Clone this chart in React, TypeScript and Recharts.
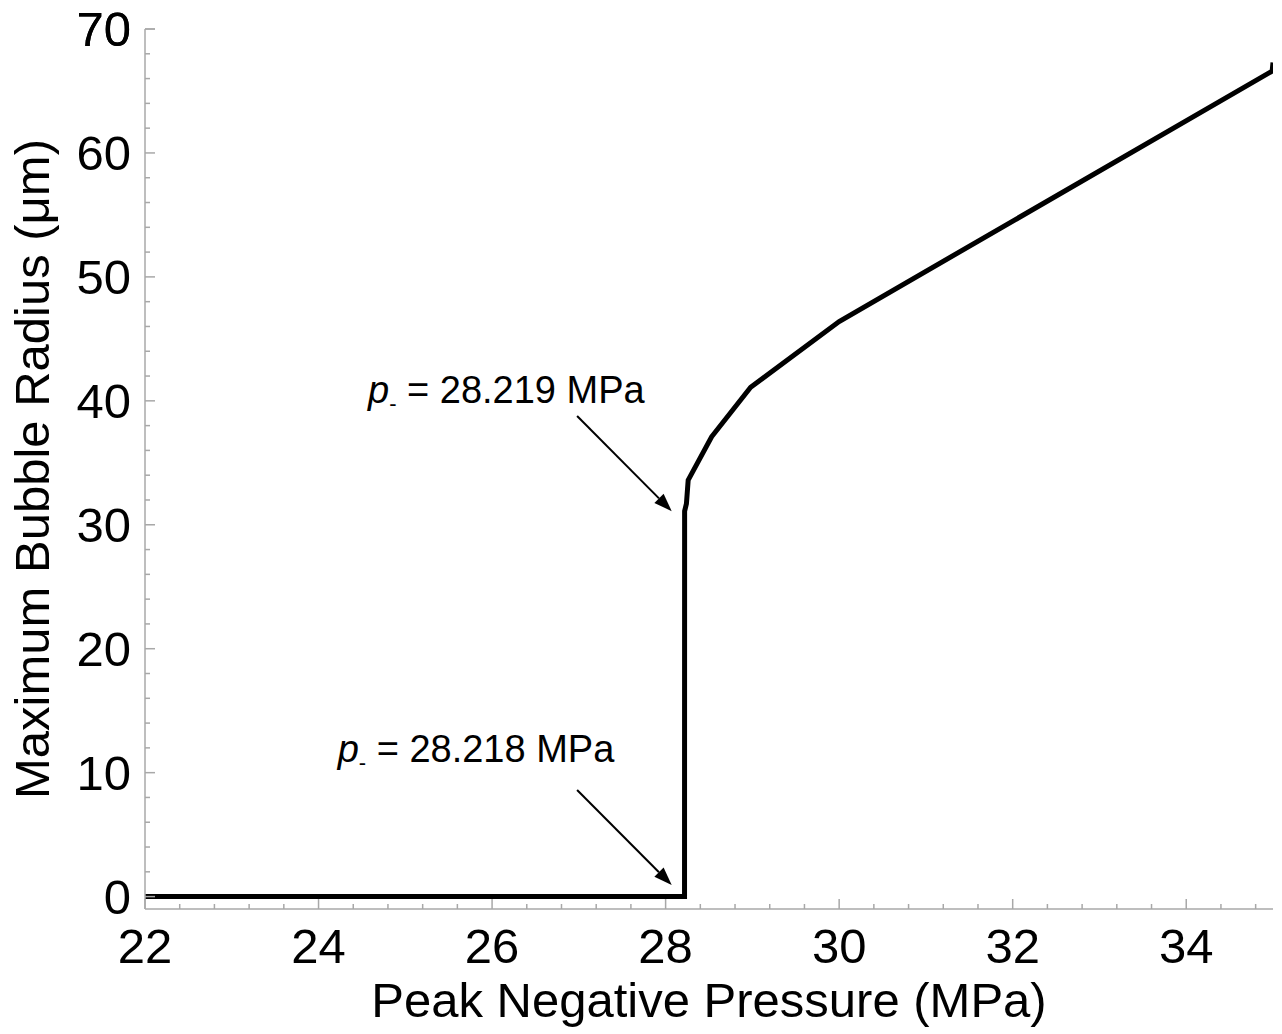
import { LineChart, Line, XAxis, YAxis, ReferenceLine, ReferenceDot } from "recharts";

const FONT = "'Liberation Sans', Arial, Helvetica, sans-serif";
const FRAME = "#a8a8a8";

// Peak negative pressure (MPa) and the resulting maximum bubble radius (µm)
const pressure = [22, 28.218, 28.219, 28.24, 28.26, 28.53, 28.98, 30, 34.99, 35];
const radius = [0, 0, 31.1, 31.7, 33.6, 37.1, 41.1, 46.4, 66.6, 67.3];

// minor ticks every 0.4 MPa / 2 µm, labelled every 2 MPa / 10 µm
const xTicks = Array.from({ length: 33 }, (_, i) => Math.round((22 + i * 0.4) * 10) / 10);
const yTicks = Array.from({ length: 36 }, (_, i) => i * 2);

const annotations = [
  { label: "28.219 MPa", textAt: [24.57, 39.83], from: [26.98, 38.77], to: [28.07, 31.1] },
  { label: "28.218 MPa", textAt: [24.22, 10.86], from: [26.98, 8.6], to: [28.07, 0.94] },
];

const data = pressure.map((p, i) => ({ p, r: radius[i] }));

const isMultiple = (v: number, step: number) => Math.abs(v / step - Math.round(v / step)) < 1e-6;

function BottomTick({ x, y, payload }: any) {
  const major = isMultiple(payload.value, 2);
  return (
    <g>
      <line x1={x} x2={x} y1={y} y2={y - (major ? 10 : 5)} stroke={FRAME} strokeWidth={1.5} />
      {major && (
        <text x={x} y={y + 54} textAnchor="middle" fontSize={49} fontFamily={FONT} fill="#000">
          {payload.value}
        </text>
      )}
    </g>
  );
}

function TopTick({ x, y, payload }: any) {
  const major = isMultiple(payload.value, 2);
  return <line x1={x} x2={x} y1={y} y2={y + (major ? 10 : 5)} stroke={FRAME} strokeWidth={1.5} />;
}

function LeftTick({ x, y, payload }: any) {
  const major = isMultiple(payload.value, 10);
  return (
    <g>
      <line x1={x} x2={x + (major ? 10 : 5)} y1={y} y2={y} stroke={FRAME} strokeWidth={1.5} />
      {major && (
        <text x={x - 14} y={y + 17} textAnchor="end" fontSize={49} fontFamily={FONT} fill="#000">
          {payload.value}
        </text>
      )}
    </g>
  );
}

function RightTick({ x, y, payload }: any) {
  const major = isMultiple(payload.value, 10);
  return <line x1={x} x2={x - (major ? 10 : 5)} y1={y} y2={y} stroke={FRAME} strokeWidth={1.5} />;
}

function XTitle({ viewBox }: any) {
  return (
    <text
      x={viewBox.x + viewBox.width / 2}
      y={viewBox.y + 108}
      textAnchor="middle"
      fontSize={49}
      fontFamily={FONT}
      fill="#000"
    >
      Peak Negative Pressure (MPa)
    </text>
  );
}

function YTitle({ viewBox }: any) {
  const cx = viewBox.x + 49;
  const cy = viewBox.y + viewBox.height / 2;
  return (
    <text
      x={cx}
      y={cy}
      transform={`rotate(-90 ${cx} ${cy})`}
      textAnchor="middle"
      fontSize={49}
      fontFamily={FONT}
      fill="#000"
    >
      Maximum Bubble Radius (μm)
    </text>
  );
}

function Arrow({ x1, y1, x2, y2 }: any) {
  const ang = Math.atan2(y2 - y1, x2 - x1);
  const len = 18;
  const half = 6.5;
  const bx = x2 - len * Math.cos(ang);
  const by = y2 - len * Math.sin(ang);
  const nx = -Math.sin(ang) * half;
  const ny = Math.cos(ang) * half;
  return (
    <g>
      <line x1={x1} y1={y1} x2={bx} y2={by} stroke="#000" strokeWidth={2} />
      <polygon points={`${x2},${y2} ${bx + nx},${by + ny} ${bx - nx},${by - ny}`} fill="#000" />
    </g>
  );
}

function PressureNote(label: string) {
  return ({ cx, cy }: any) => (
    <text x={cx} y={cy} fontSize={38} fontFamily={FONT} fill="#000">
      <tspan fontStyle="italic">p</tspan>
      <tspan fontSize={22} dy={8}>-</tspan>
      <tspan dy={-8}>{` = ${label}`}</tspan>
    </text>
  );
}

export default function App() {
  return (
    <div style={{ position: "absolute", left: 0, top: 0, background: "#fff" }}>
      <LineChart width={1282} height={1034} data={data} margin={{ top: 29, right: 9, left: 0, bottom: 0 }}>
        <XAxis
          xAxisId="bottom"
          dataKey="p"
          type="number"
          domain={[22, 35]}
          ticks={xTicks}
          interval={0}
          height={125}
          tickSize={0}
          tickMargin={0}
          tickLine={false}
          axisLine={{ stroke: FRAME, strokeWidth: 1.5 }}
          tick={<BottomTick />}
          label={<XTitle />}
          allowDataOverflow
        />
        <XAxis
          xAxisId="top"
          orientation="top"
          dataKey="p"
          type="number"
          domain={[22, 35]}
          ticks={xTicks}
          interval={0}
          height={0}
          tickSize={0}
          tickMargin={0}
          tickLine={false}
          axisLine={{ stroke: FRAME, strokeWidth: 1.5 }}
          tick={<TopTick />}
          allowDataOverflow
        />
        <YAxis
          yAxisId="left"
          type="number"
          domain={[-1, 70]}
          ticks={yTicks.concat(70)}
          interval={0}
          width={145}
          tickSize={0}
          tickMargin={0}
          tickLine={false}
          axisLine={{ stroke: FRAME, strokeWidth: 1.5 }}
          tick={<LeftTick />}
          label={<YTitle />}
          allowDataOverflow
        />
        <YAxis
          yAxisId="right"
          orientation="right"
          type="number"
          domain={[-1, 70]}
          ticks={yTicks}
          interval={0}
          width={0}
          tickSize={0}
          tickMargin={0}
          tickLine={false}
          axisLine={{ stroke: FRAME, strokeWidth: 1.5 }}
          tick={<RightTick />}
          allowDataOverflow
        />
        <Line
          xAxisId="bottom"
          yAxisId="left"
          type="linear"
          dataKey="r"
          stroke="#000"
          strokeWidth={5}
          dot={false}
          isAnimationActive={false}
        />
        {annotations.map((a) => (
          <ReferenceLine
            key={`arrow-${a.label}`}
            xAxisId="bottom"
            yAxisId="left"
            segment={[
              { x: a.from[0], y: a.from[1] },
              { x: a.to[0], y: a.to[1] },
            ]}
            ifOverflow="visible"
            shape={<Arrow />}
          />
        ))}
        {annotations.map((a) => (
          <ReferenceDot
            key={`note-${a.label}`}
            xAxisId="bottom"
            yAxisId="left"
            x={a.textAt[0]}
            y={a.textAt[1]}
            r={1}
            ifOverflow="visible"
            shape={PressureNote(a.label)}
          />
        ))}
      </LineChart>
    </div>
  );
}
